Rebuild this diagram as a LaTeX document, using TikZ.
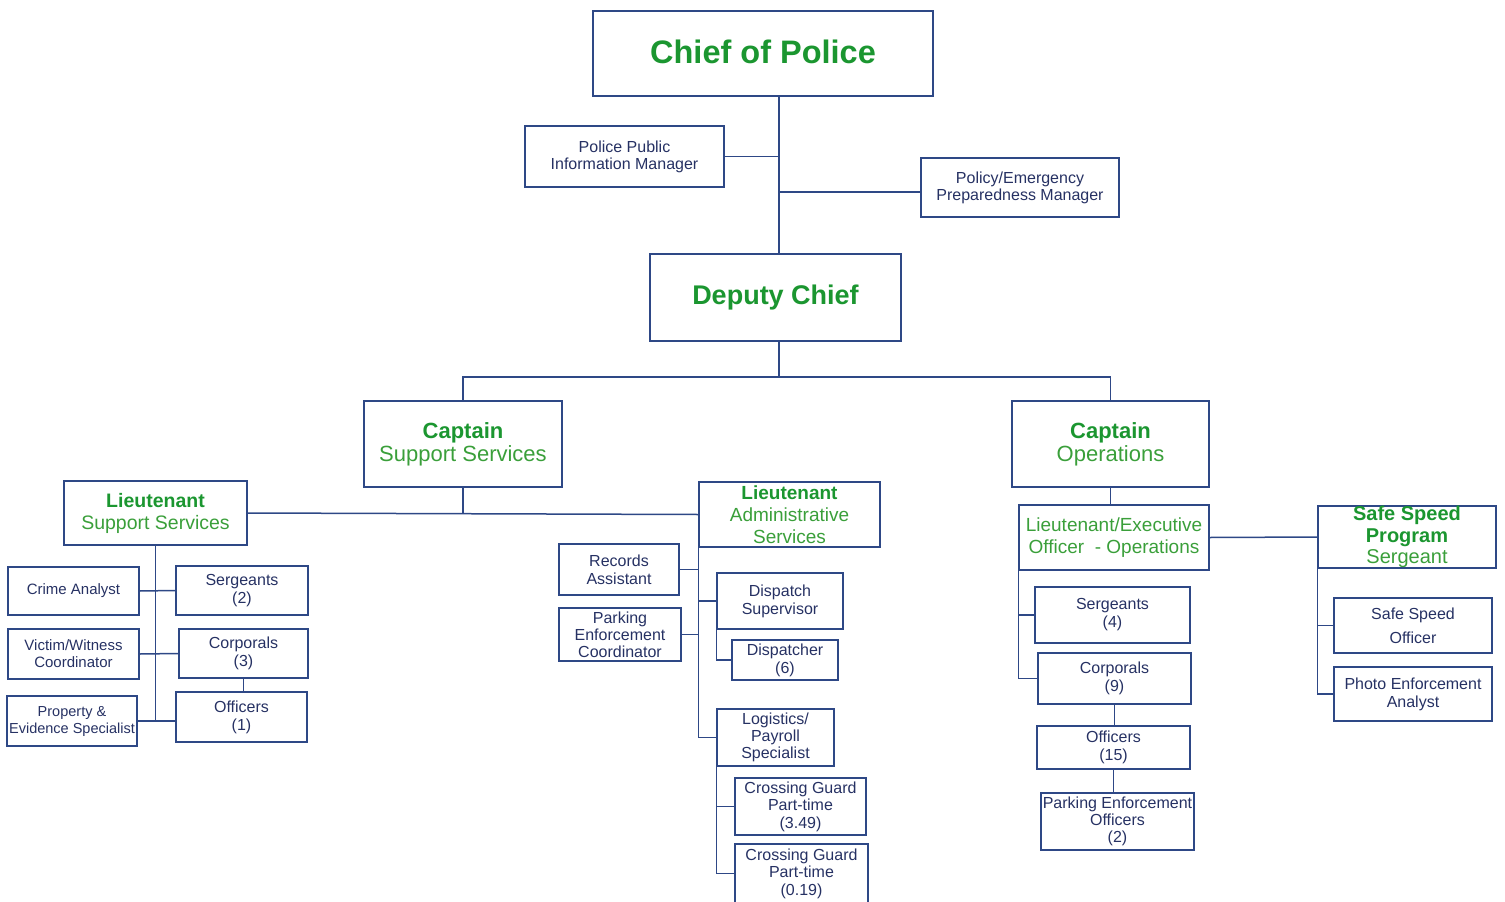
\documentclass[tikz,border=0pt]{standalone}
\usepackage{fontspec}
\setmainfont{Liberation Sans}
\definecolor{boxline}{HTML}{2E4886}
\definecolor{navytext}{HTML}{263163}
\definecolor{headgreen}{HTML}{1B9630}
\definecolor{subgreen}{HTML}{3A9F3A}
\newcommand{\setfs}[2]{\fontsize{#1}{#2}\selectfont}
\begin{document}
\begin{tikzpicture}[x=1pt,y=-1pt,
  box/.style={draw=boxline, line width=1.4pt, rectangle, inner sep=0pt,
    align=center, text=navytext, font=\setfs{16}{18}},
  wh/.style 2 args={minimum width=#1, minimum height=#2},
  link/.style={draw=boxline, line width=1.5pt}]
\useasboundingbox (0,0) rectangle (1505,902);

% ---- top level ----
\node[box, wh={340}{85}, text=headgreen, font=\setfs{32.5}{34}\bfseries] (chief) at (763,53.5) {\raisebox{3pt}{Chief of Police}};
\node[box, wh={199}{61}, font=\setfs{16}{17}] (ppim) at (624.5,156.5) {Police Public\\Information Manager};
\node[box, wh={198}{59}, font=\setfs{16}{17}] (pepm) at (1020,187.5) {Policy/Emergency\\Preparedness Manager};
\node[box, wh={251}{87}, text=headgreen, font=\setfs{27}{30}\bfseries] (deputy) at (775.5,297.5) {\raisebox{2pt}{Deputy Chief}};

% ---- captains ----
\node[box, wh={198}{86}, font=\setfs{22}{23}] (capss) at (463,444)
  {\textcolor{headgreen}{\bfseries Captain}\\\textcolor{subgreen}{Support Services}};
\node[box, wh={197}{86}, font=\setfs{22}{23}] (capops) at (1110.5,444)
  {\textcolor{headgreen}{\bfseries Captain}\\\textcolor{subgreen}{Operations}};

% ---- support services branch ----
\node[box, wh={183}{64}, font=\setfs{19.5}{22}] (ltss) at (155.5,513)
  {\textcolor{headgreen}{\bfseries Lieutenant}\\\textcolor{subgreen}{Support Services}};
\node[box, wh={131}{48}, font=\setfs{15}{17}] (crime) at (73.5,591) {Crime Analyst};
\node[box, wh={132}{49}] (serg2) at (242,590.5) {Sergeants\\(2)};
\node[box, wh={131}{50}, font=\setfs{15}{17}] (victim) at (73.5,654) {Victim/Witness\\Coordinator};
\node[box, wh={129}{49}] (corp3) at (243.5,653.5) {Corporals\\(3)};
\node[box, wh={131}{50}] (off1) at (241.5,717) {Officers\\(1)};
\node[box, wh={130}{50}, font=\setfs{14.5}{17}] (pes) at (72,721) {Property \&\\Evidence Specialist};

% ---- administrative services branch ----
\node[box, wh={181}{65}, font=\setfs{19}{22}] (ltas) at (789.5,514.5)
  {\textcolor{headgreen}{\bfseries Lieutenant}\\\textcolor{subgreen}{Administrative}\\\textcolor{subgreen}{Services}};
\node[box, wh={120}{51}] (records) at (619,569.5) {Records\\Assistant};
\node[box, wh={122}{53}, font=\setfs{16}{17}] (parkc) at (620,634.5) {Parking\\Enforcement\\Coordinator};
\node[box, wh={126}{56}] (dsup) at (780,601) {Dispatch\\Supervisor};
\node[box, wh={106}{40}] (dispatcher) at (785,660) {Dispatcher\\(6)};
\node[box, wh={117}{57}, font=\setfs{16}{17}] (logi) at (775.5,737.5) {Logistics/\\Payroll\\Specialist};
\node[box, wh={131}{57}, font=\setfs{16}{17.5}] (cga) at (800.5,806.5) {Crossing Guard\\Part-time\\(3.49)};
\node[box, wh={133}{59}, font=\setfs{16}{17.5}] (cgb) at (801.5,873.5) {Crossing Guard\\Part-time\\(0.19)};

% ---- operations branch ----
\node[box, wh={190}{65}, font=\setfs{19}{22}, text=subgreen] (ltops) at (1114,537.5)
  {Lieutenant/Executive\\Officer\ \ - Operations};
\node[box, wh={178}{62}, font=\setfs{20}{21.5}] (ssps) at (1407,537)
  {\textcolor{headgreen}{\bfseries Safe Speed}\\\textcolor{headgreen}{\bfseries Program}\\\textcolor{subgreen}{Sergeant}};
\node[box, wh={155}{56}] (serg4) at (1112.5,615) {Sergeants\\(4)};
\node[box, wh={153}{51}] (corp9) at (1114.5,678.5) {Corporals\\(9)};
\node[box, wh={153}{43}] (off15) at (1113.5,747.5) {Officers\\(15)};
\node[box, wh={153}{57}, font=\setfs{16}{17}] (peo) at (1117.5,821.5) {Parking Enforcement\\Officers\\(2)};
\node[box, wh={158}{55}, font=\setfs{16}{24}] (sso) at (1413,625.5) {Safe Speed\\Officer};
\node[box, wh={158}{54}] (pea) at (1413,694) {Photo Enforcement\\Analyst};

% ---- connectors ----
\coordinate (spine) at (779,0);
\coordinate (bus) at (779,377);
\coordinate (pepmlink) at (921,192);
\path[link] (spine |- chief.south) -- (spine |- deputy.north);
\path[link] (ppim.east) -- (ppim.east -| spine);
\path[link] (pepmlink) -- (pepmlink -| spine);
\path[link] (spine |- deputy.south) -- (bus);
\path[link] (capss.north) |- (bus) -| (capops.north);

% support services
\path[link] (capss.south) -- (capss.south |- ltss.east);
\path[link] (ltss.east) -- (ltas.west);
\path[link] (ltss.south) -- (ltss.south |- pes.east);
\path[link] (crime.east) -- (serg2.west);
\path[link] (victim.east) -- (corp3.west);
\path[link] (pes.east) -- (pes.east -| off1.west);
\path[link] (corp3.south) -- (corp3.south |- off1.north);

% administrative services
\path[link] (ltas.south west) -- (ltas.south west |- logi.west);
\path[link] (records.east) -- (records.east -| ltas.west);
\path[link] (parkc.east) -- (parkc.east -| ltas.west);
\path[link] (ltas.west |- dsup.west) -- (dsup.west);
\path[link] (ltas.west |- logi.west) -- (logi.west);
\path[link] (dsup.south west) |- (dispatcher.west);
\path[link] (logi.south west) |- (cgb.west);
\path[link] (logi.south west |- cga.west) -- (cga.west);

% operations
\path[link] (capops.south) -- (capops.south |- ltops.north);
\path[link] (ltops.east) -- (ssps.west);
\path[link] (ltops.south west) |- (corp9.west);
\path[link] (ltops.south west |- serg4.west) -- (serg4.west);
\path[link] (corp9.south) -- (corp9.south |- off15.north);
\path[link] (off15.south) -- (off15.south |- peo.north);
\path[link] (ssps.south west) |- (pea.west);
\path[link] (ssps.south west |- sso.west) -- (sso.west);
\end{tikzpicture}
\end{document}
